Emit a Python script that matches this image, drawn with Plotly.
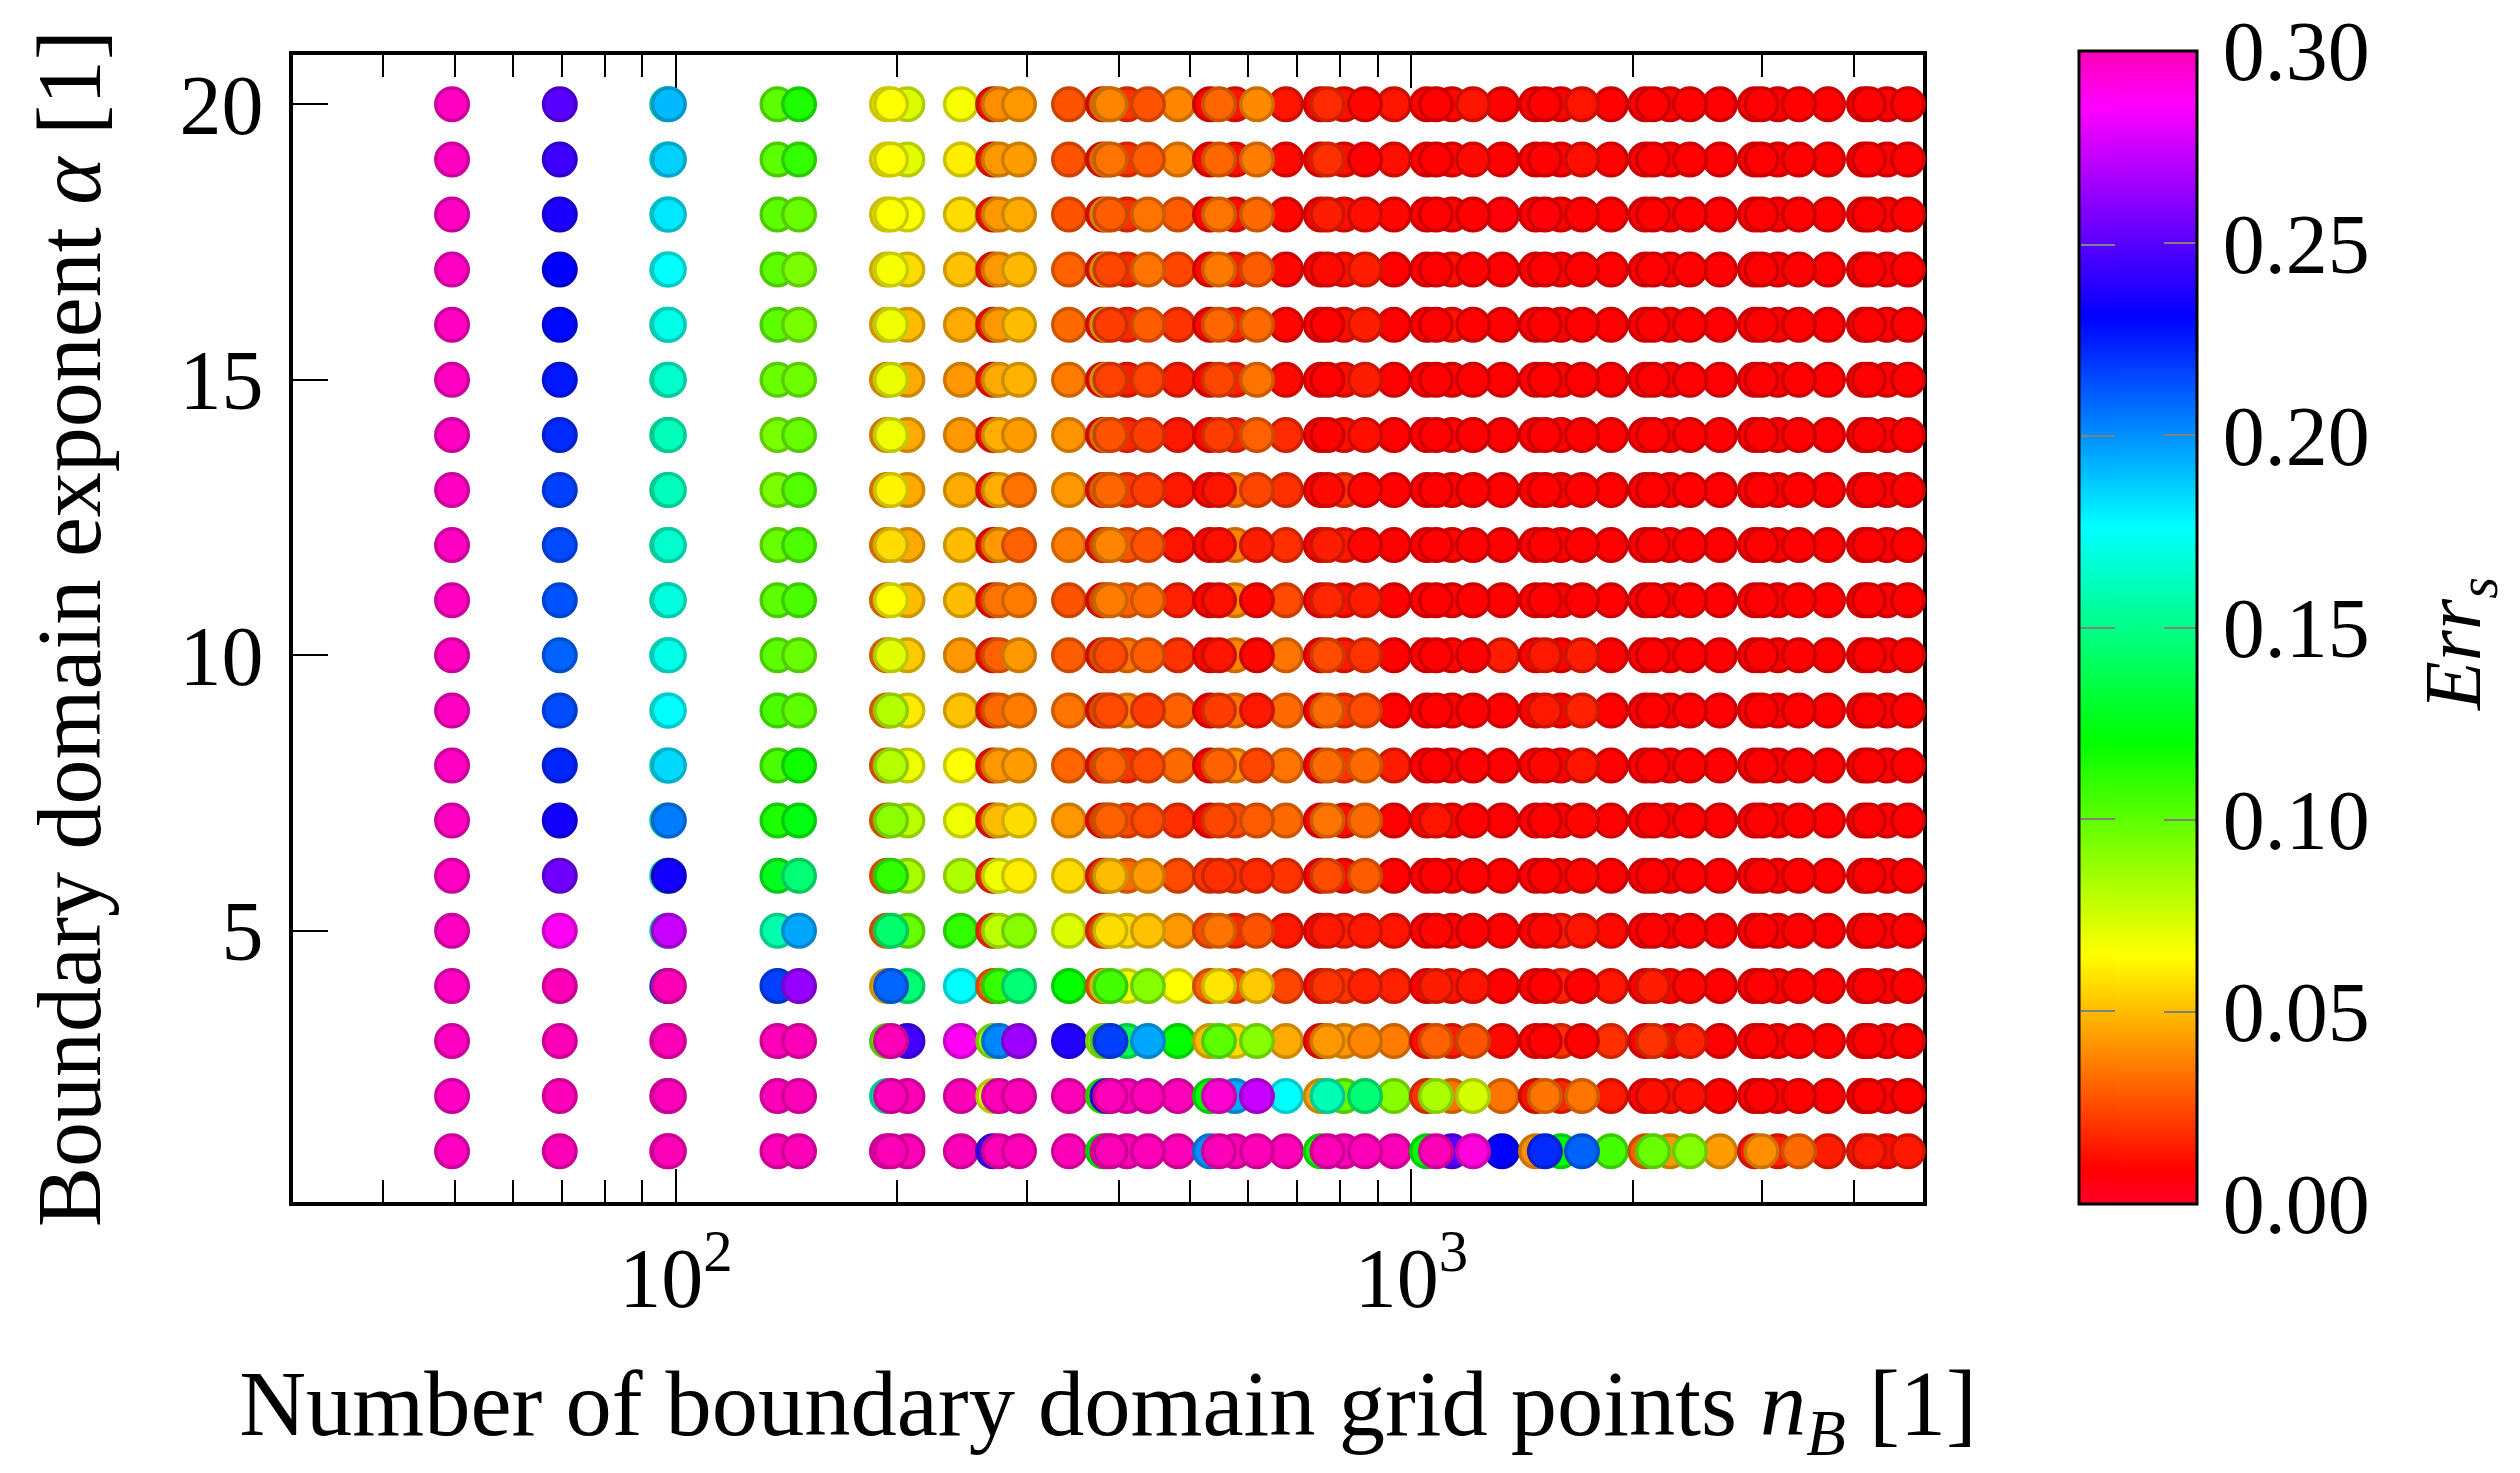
import plotly.graph_objects as go

# Boundary domain exponent, listed from the top row down
ALPHA = [20,19,18,17,16,15,14,13,12,11,10,9,8,7,6,5,4,3,2,1]

# Err_s per column of grid points (same order as ALPHA)
E_96   = [.160,.165,.170,.170,.165,.160,.155,.155,.155,.160,.165,.170,.165,.160,.160,.160,.215,.300,.300,.300]
E_50   = [.298,.298,.298,.298,.298,.298,.298,.298,.298,.298,.298,.298,.298,.298,.298,.298,.298,.298,.298,.298]
E_70   = [.250,.244,.237,.231,.229,.226,.222,.217,.215,.213,.210,.215,.223,.235,.255,.288,.300,.300,.300,.300]
E_98   = [.191,.186,.181,.176,.171,.165,.161,.161,.165,.169,.171,.176,.184,.204,.235,.274,.300,.300,.300,.300]
E_137  = [.100,.100,.100,.100,.100,.0975,.094,.094,.0975,.100,.100,.1045,.1045,.114,.127,.158,.217,.300,.300,.300]
E_147  = [.114,.109,.0975,.094,.094,.0965,.098,.1025,.1035,.1045,.098,.100,.117,.124,.146,.195,.263,.300,.300,.300]
E_194  = [.063,.062,.060,.055,.050,.045,.042,.040,.038,.035,.035,.035,.030,.030,.030,.030,.050,.098,.160,.300]
E_196  = [.065,.065,.065,.0665,.068,.069,.068,.062,.057,.065,.071,.081,.081,.090,.110,.144,.209,.300,.300,.300]
E_206  = [.0725,.071,.065,.057,.050,.046,.046,.046,.046,.050,.053,.060,.068,.0796,.084,.098,.146,.245,.300,.300]
E_244  = [.0665,.061,.057,.051,.046,.042,.042,.046,.050,.050,.042,.051,.065,.068,.082,.110,.176,.288,.300,.300]
E_262  = [.014,.014,.014,.014,.014,.014,.012,.012,.012,.012,.014,.014,.014,.014,.018,.020,.030,.0875,.0725,.245]
E_271  = [.040,.042,.042,.042,.042,.046,.047,.047,.042,.034,.030,.032,.042,.050,.068,.0796,.109,.202,.300,.300]
E_293  = [.042,.043,.046,.049,.050,.048,.043,.034,.030,.036,.042,.036,.043,.057,.061,.091,.146,.265,.300,.300]
E_342  = [.027,.027,.027,.030,.032,.036,.041,.042,.036,.027,.029,.034,.031,.042,.057,.0725,.120,.238,.300,.300]
E_381  = [.012,.012,.012,.012,.012,.012,.012,.012,.012,.012,.012,.012,.012,.012,.015,.018,.030,.0875,.109,.120]
E_386  = [.040,.040,.046,.050,.050,.050,.042,.036,.030,.030,.032,.032,.028,.028,.030,.032,.060,.098,.240,.300]
E_390  = [.038,.034,.029,.024,.022,.023,.027,.031,.038,.036,.025,.025,.030,.030,.050,.057,.1055,.217,.300,.300]
E_410  = [.020,.020,.019,.018,.017,.015,.017,.021,.027,.030,.034,.038,.020,.024,.032,.057,.068,.138,.300,.300]
E_438  = [.027,.029,.034,.034,.029,.023,.022,.022,.027,.032,.029,.022,.025,.025,.042,.051,.091,.195,.300,.300]
E_482  = [.038,.038,.029,.024,.020,.015,.014,.014,.013,.016,.020,.030,.032,.019,.025,.042,.065,.120,.300,.300]
E_532  = [.010,.010,.010,.010,.010,.010,.010,.010,.010,.010,.010,.010,.010,.010,.020,.025,.030,.050,.120,.200]
E_547  = [.031,.031,.034,.035,.031,.024,.022,.013,.012,.012,.013,.022,.030,.024,.019,.034,.059,.100,.295,.300]
E_575  = [.013,.012,.012,.015,.016,.016,.017,.034,.038,.040,.038,.034,.040,.025,.019,.018,.025,.057,.195,.300]
E_617  = [.039,.036,.032,.029,.032,.034,.030,.024,.015,.010,.010,.014,.024,.029,.018,.027,.053,.091,.274,.300]
E_675  = [.013,.011,.010,.010,.010,.011,.018,.019,.019,.025,.034,.032,.034,.032,.020,.014,.024,.046,.176,.300]
E_753  = [.009,.009,.009,.009,.009,.009,.009,.009,.009,.009,.009,.009,.009,.009,.009,.010,.012,.012,.045,.117]
E_769  = [.018,.019,.015,.011,.009,.009,.009,.011,.015,.017,.025,.032,.032,.034,.025,.014,.020,.042,.160,.300]
E_810  = [.012,.012,.012,.012,.012,.012,.012,.020,.014,.012,.014,.020,.020,.012,.010,.016,.020,.042,.098,.300]
E_865  = [.010,.009,.012,.015,.015,.015,.012,.010,.010,.015,.020,.025,.032,.032,.029,.014,.016,.038,.146,.300]
E_947  = [.013,.012,.010,.009,.009,.009,.009,.009,.009,.009,.009,.009,.015,.009,.009,.013,.016,.036,.091,.300]
E_1050 = [.008,.008,.008,.008,.008,.008,.008,.008,.008,.008,.008,.008,.008,.008,.008,.008,.008,.012,.020,.120]
E_1080 = [.009,.009,.009,.009,.009,.009,.009,.009,.009,.009,.009,.009,.009,.013,.009,.010,.015,.030,.083,.300]
E_1135 = [.010,.010,.010,.012,.013,.010,.010,.010,.010,.010,.010,.010,.010,.010,.010,.010,.013,.015,.034,.250]
E_1213 = [.013,.011,.009,.009,.009,.009,.009,.009,.009,.009,.009,.009,.009,.009,.009,.009,.013,.027,.074,.293]
E_1328 = [.009,.009,.007,.009,.009,.009,.009,.009,.009,.009,.015,.009,.009,.009,.009,.009,.009,.011,.034,.231]
E_1477 = [.009,.009,.009,.009,.009,.009,.009,.009,.009,.009,.009,.009,.009,.009,.009,.009,.009,.009,.012,.040]
E_1519 = [.009,.009,.007,.009,.009,.009,.009,.009,.009,.009,.014,.014,.010,.009,.009,.010,.009,.009,.034,.222]
E_1597 = [.009,.009,.009,.009,.009,.009,.009,.009,.009,.009,.009,.009,.009,.009,.009,.015,.016,.019,.016,.120]
E_1706 = [.013,.012,.009,.009,.009,.009,.009,.009,.009,.009,.015,.016,.013,.010,.010,.013,.009,.009,.034,.210]
E_1868 = [.009,.009,.009,.009,.009,.009,.009,.009,.009,.009,.009,.009,.009,.009,.009,.011,.013,.019,.014,.1055]
E_2081 = [.008,.008,.008,.008,.008,.008,.008,.008,.008,.008,.008,.008,.008,.008,.008,.008,.008,.008,.008,.030]
E_2131 = [.009,.009,.009,.009,.009,.009,.009,.009,.009,.009,.009,.009,.009,.009,.009,.009,.015,.020,.012,.0975]
E_2247 = [.009,.009,.009,.009,.009,.009,.009,.009,.009,.009,.009,.009,.009,.009,.009,.009,.009,.009,.012,.042]
E_2392 = [.009,.009,.009,.009,.009,.009,.009,.009,.009,.009,.009,.009,.009,.009,.009,.009,.010,.016,.012,.092]
E_2628 = [.008,.008,.008,.008,.008,.008,.008,.008,.008,.008,.008,.008,.008,.008,.008,.008,.008,.008,.009,.043]
E_2932 = [.008,.008,.008,.008,.008,.008,.008,.008,.008,.008,.008,.008,.008,.008,.008,.008,.008,.008,.008,.014]
E_2993 = [.009,.009,.009,.009,.009,.009,.009,.009,.009,.009,.009,.009,.009,.009,.009,.009,.009,.009,.009,.040]
E_3151 = [.009,.009,.009,.009,.009,.009,.009,.009,.009,.009,.009,.009,.009,.009,.009,.009,.009,.009,.009,.015]
E_3365 = [.009,.009,.009,.009,.009,.009,.009,.009,.009,.009,.009,.009,.009,.009,.009,.009,.009,.009,.009,.032]
E_3686 = [.009,.009,.009,.009,.009,.009,.009,.009,.009,.009,.009,.009,.009,.009,.009,.009,.009,.009,.008,.015]
E_4125 = [.009,.009,.009,.009,.009,.009,.009,.009,.009,.009,.009,.009,.009,.009,.009,.009,.009,.009,.009,.014]
E_4190 = [.009,.009,.009,.009,.009,.009,.009,.009,.009,.009,.009,.009,.009,.009,.009,.009,.009,.009,.009,.014]
E_4433 = [.009,.009,.009,.009,.009,.009,.009,.009,.009,.009,.009,.009,.009,.009,.009,.009,.009,.009,.009,.011]
E_4734 = [.009,.009,.009,.009,.009,.009,.009,.009,.009,.009,.009,.009,.009,.009,.009,.009,.009,.009,.009,.014]

# Number of boundary grid points and column values, in drawing order
NB = [97.3, 49.6, 69.5, 97.8, 137.4, 193.6, 206.4, 244, 270, 275, 342.3, 380.7, 386, 410.5,
      481.6, 532.3, 575.5, 675.3, 753, 809.7, 947, 1050, 1135, 1328, 1477, 1597, 1868, 2081,
      2247, 2628, 2932, 3151, 3686, 4125, 4433,
      147, 196.1, 292.7, 389.8, 438.3, 547.5, 616.6, 769, 864.9, 1080, 1213, 1519, 1706, 2131,
      2392, 2993, 3365, 4190, 4734]
ERR = [E_96, E_50, E_70, E_98, E_137, E_194, E_206, E_244, E_262, E_271, E_342, E_381, E_386, E_410,
       E_482, E_532, E_575, E_675, E_753, E_810, E_947, E_1050, E_1135, E_1328, E_1477, E_1597, E_1868, E_2081,
       E_2247, E_2628, E_2932, E_3151, E_3686, E_4125, E_4433,
       E_147, E_196, E_293, E_390, E_438, E_547, E_617, E_769, E_865, E_1080, E_1213, E_1519, E_1706, E_2131,
       E_2392, E_2993, E_3365, E_4190, E_4734]

X_TICKS = [100, 1000]
X_TICK_TEXT = ["10<sup>2</sup>", "10<sup>3</sup>"]
X_MINOR = [40,50,60,70,80,90,200,300,400,500,600,700,800,900,2000,3000,4000]
Y_TICKS = [5, 10, 15, 20]
CB_TICKS = [0, 0.05, 0.10, 0.15, 0.20, 0.25, 0.30]
CB_INNER = [0.05, 0.10, 0.15, 0.20, 0.25]

STOPS = [(0, (255,0,40)), (.029, (255,0,0)), (.2157, (255,255,0)), (.4013, (0,255,0)),
         (.587, (0,255,255)), (.77, (0,0,255)), (.953, (255,0,255)), (1, (255,0,185))]
SCALE = [[s, "rgb(%d,%d,%d)" % c] for s, c in STOPS]
EDGE = [[s, "rgb(%d,%d,%d)" % tuple(int(v*0.8) for v in c)] for s, c in STOPS]

FONT = "Liberation Serif"
W, H = 2520, 1473
L, R, T, B = 293, 1923, 55, 1202
CB_L, CB_R, CB_T, CB_B = 2079, 2197, 51, 1204
TICK_SIZE = 84

xs, ys, cs = [], [], []
for n, col in zip(NB, ERR):
    for a, e in zip(ALPHA, col):
        xs.append(n); ys.append(a); cs.append(e)

cb_y = 1 - (CB_T + CB_B) / 2 / H
fig = go.Figure()
fig.add_trace(go.Scatter(
    x=xs, y=ys, mode="markers", cliponaxis=False, showlegend=False,
    marker=dict(size=32.5, color=cs, colorscale=SCALE, cmin=0, cmax=0.3,
                line=dict(width=3.5, color=cs, colorscale=EDGE, cmin=0, cmax=0.3),
                colorbar=dict(
                    x=CB_L / W, xanchor="left", xpad=0, y=cb_y, yanchor="middle", ypad=0,
                    lenmode="pixels", len=CB_B - CB_T, thicknessmode="pixels", thickness=CB_R - CB_L,
                    outlinecolor="black", outlinewidth=3, borderwidth=0,
                    tickmode="array", tickvals=CB_TICKS, ticktext=["\u200a%.2f" % v for v in CB_TICKS],
                    ticks="inside", ticklen=34, tickwidth=1.5, tickcolor="#808080",
                    tickfont=dict(family=FONT, size=TICK_SIZE, color="black")))))
# narrow second bar: its ticks give the left-hand tick marks of the colour bar
fig.add_trace(go.Scatter(
    x=[None], y=[None], mode="markers", showlegend=False, hoverinfo="skip",
    marker=dict(color=[0.15], colorscale=SCALE, cmin=0, cmax=0.3,
                colorbar=dict(
                    x=(CB_L + 2) / W, xanchor="left", xpad=0, y=cb_y, yanchor="middle", ypad=0,
                    lenmode="pixels", len=CB_B - CB_T - 4, thicknessmode="pixels", thickness=34,
                    outlinewidth=0, borderwidth=0,
                    tickmode="array", tickvals=CB_INNER, showticklabels=False,
                    ticks="inside", ticklen=34, tickwidth=1.5, tickcolor="#808080"))))

axis_common = dict(showgrid=False, zeroline=False, showline=True, linecolor="black", linewidth=3.5,
                   mirror="all", ticks="inside", tickcolor="black", tickwidth=2, layer="below traces",
                   tickfont=dict(family=FONT, size=TICK_SIZE, color="black"))
fig.update_layout(
    width=W, height=H, margin=dict(l=0, r=0, t=0, b=0, autoexpand=False),
    paper_bgcolor="white", plot_bgcolor="white",
    xaxis=dict(axis_common, type="log", range=[1.4792, 3.6957], domain=[L / W, R / W],
               tickmode="array", tickvals=X_TICKS, ticktext=X_TICK_TEXT, ticklen=33,
               minor=dict(tickmode="array", tickvals=X_MINOR, ticks="inside", ticklen=22,
                          tickwidth=2, tickcolor="black"),
               title=dict(text="Number of boundary domain grid points <i>n<sub>B</sub></i> [1]",
                          font=dict(family=FONT, size=92.5, color="black"), standoff=48)),
    yaxis=dict(axis_common, range=[0.078, 20.895], domain=[1 - B / H, 1 - T / H],
               tickmode="array", tickvals=Y_TICKS, ticklen=35, ticklabelstandoff=9,
               title=dict(text="Boundary domain exponent <i>α</i> [1]",
                          font=dict(family=FONT, size=90, color="black"), standoff=50)),
    annotations=[dict(text="<i>Err<sub>s</sub></i>", xref="paper", yref="paper", x=2459 / W, y=1 - 644 / H,
                      showarrow=False, textangle=-90, xanchor="center", yanchor="middle",
                      font=dict(family=FONT, size=80, color="black"))],
)
fig.write_html("out.html", config={"displayModeBar": False},
               post_script="document.body.style.margin='0';")
